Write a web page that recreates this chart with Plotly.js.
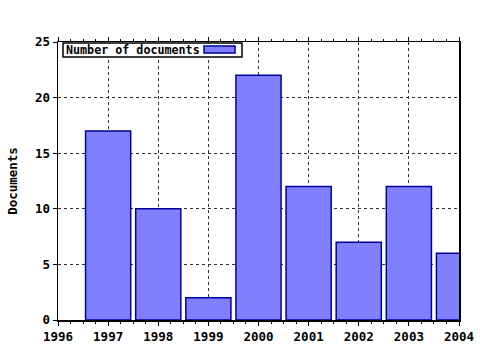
<!DOCTYPE html>
<html>
<head>
<meta charset="utf-8">
<script src="https://cdn.plot.ly/plotly-3.0.1.min.js"></script>
<style>html,body{margin:0;padding:0;background:#fff;}#chart{width:480px;height:350px;}</style>
</head>
<body>
<div id="chart"></div>
<script>
var years = [1997, 1998, 1999, 2000, 2001, 2002, 2003, 2004];
var documents = [17, 10, 2, 22, 12, 7, 12, 6];
var xTicks = [1996, 1997, 1998, 1999, 2000, 2001, 2002, 2003, 2004];
var yTicks = [0, 5, 10, 15, 20, 25];
var seriesName = "Number of documents";

var tickFont = {family: "DejaVu Sans Mono", size: 12.5, color: "#000", weight: "bold"};

var trace = {
  type: "bar",
  x: years,
  y: documents,
  width: 0.9,
  name: seriesName,
  marker: {color: "#8080ff", line: {color: "#0000a0", width: 1.5}},
  showlegend: false,
  cliponaxis: true
};

var layout = {
  width: 480, height: 350,
  margin: {l: 58, r: 21, t: 42, b: 30},
  paper_bgcolor: "#fff", plot_bgcolor: "#fff",
  bargap: 0,
  xaxis: {
    range: [1996, 2004],
    tickvals: xTicks, ticktext: xTicks.map(String),
    showline: true, linecolor: "#000", linewidth: 1.5, mirror: "ticks",
    ticks: "outside", ticklen: 4, tickcolor: "#000",
    minor: {dtick: 0.25, tick0: 1996, ticks: "outside", ticklen: 2, tickcolor: "#000", showgrid: false},
    showgrid: true, gridcolor: "#333", griddash: "dot", gridwidth: 1,
    tickfont: tickFont, zeroline: false, fixedrange: true
  },
  yaxis: {
    range: [0, 25],
    tickvals: yTicks, ticktext: yTicks.map(String),
    showline: true, linecolor: "#000", linewidth: 1.5, mirror: true,
    ticks: "outside", ticklen: 4, tickcolor: "#000",
    showgrid: true, gridcolor: "#333", griddash: "dot", gridwidth: 1,
    tickfont: tickFont, zeroline: false,
    title: {text: "Documents", font: tickFont, standoff: 14}
  },
  shapes: [
    {type: "rect", xref: "paper", yref: "paper", x0: (63-58)/401, x1: (242-58)/401, y0: 1-(57-42)/278, y1: 1-(43-42)/278,
     line: {color: "#000", width: 1.5}, fillcolor: "#fff"},
    {type: "rect", xref: "paper", yref: "paper", x0: (204-58)/401, x1: (235-58)/401, y0: 1-(53-42)/278, y1: 1-(46-42)/278,
     line: {color: "#0000a0", width: 1.5}, fillcolor: "#8080ff"}
  ],
  annotations: [
    {text: seriesName, xref: "paper", yref: "paper", x: (64-58)/401, y: 1-(50-42)/278,
     xanchor: "left", yanchor: "middle", showarrow: false,
     font: {family: "DejaVu Sans Mono", size: 11.7, color: "#000", weight: "bold"}}
  ]
};

Plotly.newPlot("chart", [trace], layout, {staticPlot: true, displayModeBar: false});
</script>
</body>
</html>
